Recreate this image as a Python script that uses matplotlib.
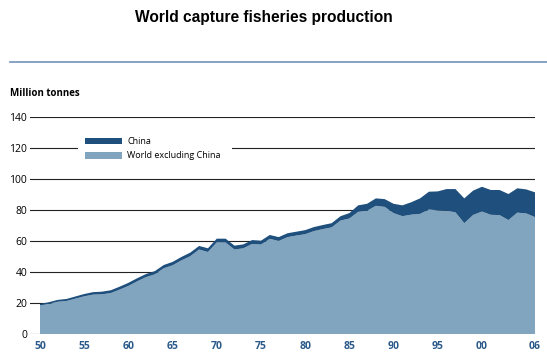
import numpy as np
import matplotlib.pyplot as plt
from matplotlib.patches import Rectangle
from matplotlib.lines import Line2D

years = list(range(1950, 2007))
china = [1.0, 1.1, 1.2, 1.3, 1.4, 1.5, 1.6, 1.7, 1.8, 1.9,
         2.0, 2.0, 2.0, 2.1, 2.1, 2.2, 2.2, 2.3, 2.3, 2.4,
         2.4, 2.5, 2.5, 2.5, 2.5, 2.5, 2.5, 2.5, 2.5, 2.5,
         2.6, 2.6, 2.6, 2.7, 2.8, 3.5, 4.2, 4.5, 4.8, 5.0,
         6.0, 7.0, 8.0, 10.0, 11.5, 12.2, 14.0, 15.0, 16.0, 15.7,
         16.0, 16.0, 16.2, 16.8, 15.7, 15.5, 16.0]
total = [19.4, 20.5, 22.0, 22.6, 24.2, 25.8, 27.0, 27.3, 28.2, 30.5,
         33.0, 36.0, 38.7, 40.6, 44.5, 46.5, 49.7, 52.5, 56.8, 55.3,
         61.5, 61.5, 57.0, 57.8, 60.6, 60.2, 63.9, 62.5, 65.0, 66.0,
         67.0, 69.0, 70.3, 71.5, 76.0, 78.0, 83.0, 84.0, 87.5, 87.0,
         84.0, 83.0, 85.0, 87.5, 91.8, 92.0, 93.5, 93.5, 87.5, 92.5,
         95.0, 92.9, 92.9, 90.3, 94.0, 93.3, 91.4]
world_ex_china = [t - c for t, c in zip(total, china)]
xtick_years = [1950, 1955, 1960, 1965, 1970, 1975, 1980, 1985, 1990, 1995, 2000, 2006]
xtick_labels = ["50", "55", "60", "65", "70", "75", "80", "85", "90", "95", "00", "06"]
yticks = [0, 20, 40, 60, 80, 100, 120, 140]

W, H = 547, 355
light = "#81a5bf"
dark = "#1f4f7c"

def fx(px):
    return px / W

def fy(py):
    return 1 - py / H

fig = plt.figure(figsize=(W / 100, H / 100), dpi=100)
ax = fig.add_axes([fx(30), fy(334), fx(535) - fx(30), (334 - 117) / H])

for y in yticks:
    ax.axhline(y, color="#222222", lw=0.8, zorder=0)

ax.stackplot(years, world_ex_china, china, colors=[light, dark], lw=0, zorder=2)

ax.set_xlim(1950 - 10 / 8.84, 2006)
ax.set_ylim(0, 140)
ax.set_yticks(yticks)
ax.set_yticklabels([str(y) for y in yticks], fontsize=7.5, family="Open Sans")
ax.set_xticks(xtick_years)
ax.set_xticklabels(xtick_labels, fontsize=7.5, fontweight="bold", color="#2b5a8a",
                   family="Open Sans")
ax.tick_params(length=0, pad=2)
ax.tick_params(axis="x", pad=5)
for s in ax.spines.values():
    s.set_visible(False)

# legend drawn by hand, white patch hides the 120 gridline
fig.add_artist(Rectangle((fx(78), fy(162)), fx(232) - fx(78), (162 - 133) / H,
                         transform=fig.transFigure, facecolor="white", edgecolor="none"))
fig.add_artist(Rectangle((fx(85), fy(144)), fx(122) - fx(85), 6.5 / H,
                         transform=fig.transFigure, facecolor=dark, edgecolor="none"))
fig.add_artist(Rectangle((fx(85), fy(158.5)), fx(122) - fx(85), 7 / H,
                         transform=fig.transFigure, facecolor=light, edgecolor="none"))
fig.text(fx(127), fy(141), "China", fontsize=6.5, va="center", family="Open Sans")
fig.text(fx(127), fy(155), "World excluding China", fontsize=6.5, va="center",
         family="Open Sans")

fig.text(fx(10), fy(94), "Million tonnes", fontsize=7, fontweight="bold",
         va="center", family="Open Sans")
fig.text(fx(264), fy(17.5), "World capture fisheries production", fontsize=11.2,
         fontweight="bold", ha="center", va="center", family="Liberation Sans")
fig.add_artist(Line2D([fx(10), 1], [fy(62), fy(62)], transform=fig.transFigure,
                      color="#7393b8", lw=1.2))

fig.savefig("out.png", dpi=100)
